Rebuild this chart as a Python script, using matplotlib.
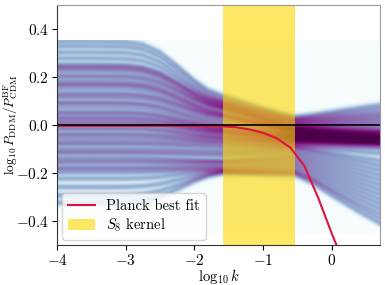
import numpy as np
import matplotlib
matplotlib.use("Agg")
import matplotlib.pyplot as plt
from matplotlib.colors import PowerNorm

plt.rcParams["font.family"] = "serif"
plt.rcParams["font.serif"] = ["cmr10"]
plt.rcParams["mathtext.fontset"] = "cm"
plt.rcParams["axes.formatter.use_mathtext"] = True
plt.rcParams["font.size"] = 11

# sample curves: level at low k, at -1.6, at -0.53 and at the right edge
low_level = [0.345, 0.325, 0.30, 0.275, 0.25,
             0.24, 0.234, 0.222, 0.205, 0.196, 0.18, 0.168, 0.163, 0.148, 0.13,
             0.122, 0.11, 0.092, 0.086, 0.07, 0.052, 0.046, 0.03, 0.024, 0.01,
             0.004, -0.012, -0.02, -0.038, -0.046, -0.06, -0.075, -0.082, -0.1, -0.112,
             -0.12, -0.138, -0.15, -0.16, -0.178, -0.186, -0.2,
             -0.225, -0.26, -0.295, -0.325]
mid_level = [0.12, 0.11, 0.10, 0.095, 0.09, 0.085, 0.08, 0.075, 0.07, 0.068,
             0.06, 0.05, 0.045, 0.04, 0.035, 0.03, 0.02, 0.01, 0.0, -0.01,
             -0.015, -0.02, -0.025, -0.03, -0.035, -0.04, -0.05, -0.055, -0.06, -0.07,
             -0.075, -0.085, -0.095, -0.11, -0.12, -0.13, -0.15, -0.155, -0.16, -0.17,
             -0.18, -0.185, -0.19, -0.195, -0.2, -0.2]
band_level = [0.03, 0.025, 0.02, 0.015, 0.01, 0.005, 0.0, -0.005, -0.01, -0.012,
              -0.015, -0.02, -0.022, -0.025, -0.028, -0.03, -0.035, -0.04, -0.04, -0.045,
              -0.05, -0.05, -0.055, -0.06, -0.06, -0.065, -0.07, -0.07, -0.075, -0.08,
              -0.085, -0.09, -0.095, -0.10, -0.11, -0.12, -0.13, -0.14, -0.15, -0.16,
              -0.17, -0.18, -0.19, -0.2, -0.2, -0.21]
high_level = [0.08, 0.065, 0.05, 0.04, 0.03, 0.02, 0.01, 0.0, -0.01, -0.02,
              -0.025, -0.03, -0.035, -0.038, -0.04, -0.045, -0.05, -0.05, -0.055, -0.06,
              -0.06, -0.065, -0.065, -0.07, -0.07, -0.075, -0.08, -0.08, -0.085, -0.09,
              -0.1, -0.12, -0.15, -0.17, -0.19, -0.21, -0.23, -0.25, -0.27, -0.29,
              -0.31, -0.33, -0.35, -0.37, -0.39, -0.41]

# shape of the transitions
node_logk = [-4, -3.5, -3, -2.75, -2.5, -2.25, -2.0, -1.8, -1.6, -1.3, -1.0, -0.75, -0.53, -0.3, 0.0, 0.35, 0.7]
step_low = [0, 0, 0.01, 0.06, 0.2, 0.45, 0.72, 0.9, 1, 1, 1, 1, 1, 1, 1, 1, 1]
step_mid = [0, 0, 0, 0, 0, 0, 0, 0, 0, 0.3, 0.6, 0.83, 1, 1, 1, 1, 1]
step_high = [0, 0, 0, 0, 0, 0, 0, 0, 0, 0, 0, 0, 0, 0.15, 0.42, 0.72, 1]

# Planck best fit
planck_logk = [-4, -2, -1.6, -1.4, -1.2, -1.0, -0.8, -0.6, -0.4, -0.2, 0.0, 0.1, 0.2]
planck_val = [-0.004, -0.004, -0.006, -0.01, -0.019, -0.033, -0.056, -0.095, -0.17, -0.30, -0.45, -0.52, -0.6]

s8_lo, s8_hi = -1.585, -0.53

xg = np.linspace(-4, 0.7, 470)
yg = np.linspace(-0.45, 0.35, 320)
f1 = np.interp(xg, node_logk, step_low)
f2 = np.interp(xg, node_logk, step_mid)
f3 = np.interp(xg, node_logk, step_high)

dens = np.zeros((len(yg), len(xg)))
for a, b, c, h in zip(low_level, mid_level, band_level, high_level):
    yc = a + (b - a) * f1 + (c - b) * f2 + (h - c) * f3
    dens += np.exp(-(yg[:, None] - yc[None, :]) ** 2 / (2 * 0.0075 ** 2))

fig = plt.figure(figsize=(3.85, 2.85), dpi=100)
ax = fig.add_axes([0.149, 0.14, 0.837, 0.844])

ax.imshow(dens, origin="lower", extent=[-4, 0.7, -0.45, 0.35], aspect="auto",
          cmap="BuPu", norm=PowerNorm(0.5, vmin=0, vmax=0.85 * dens.max(), clip=True),
          interpolation="bilinear", zorder=0)
ax.axvspan(s8_lo, s8_hi, color="gold", alpha=0.6, lw=0, zorder=1, label=r"$S_8$ kernel")
ax.plot(planck_logk, planck_val, color="crimson", lw=1.5, zorder=2, label="Planck best fit")
ax.axhline(0, color="k", lw=1.2, zorder=3)

ax.set_xlim(-4, 0.7)
ax.set_ylim(-0.5, 0.5)
ax.set_xticks([-4, -3, -2, -1, 0])
ax.set_yticks([-0.4, -0.2, 0.0, 0.2, 0.4])
ax.set_yticklabels([r"$-0.4$", r"$-0.2$", r"$0.0$", r"$0.2$", r"$0.4$"])
ax.set_xlabel(r"$\log_{10} k$", fontsize=10.5, labelpad=-1)
ax.set_ylabel(r"$\log_{10} P_{\rm DDM}/P^{\rm BF}_{\rm CDM}$", fontsize=9.5, labelpad=-3)

for side in ["top", "right"]:
    ax.spines[side].set_color("0.6")
for side in ["left", "bottom"]:
    ax.spines[side].set_color("0.2")
ax.tick_params(direction="out", length=3.5, width=0.8, pad=2.5)

h, l = ax.get_legend_handles_labels()
ax.legend(h[::-1], l[::-1], loc="lower left", fontsize=10.5, framealpha=0.8,
          edgecolor="0.8", handlelength=1.8, labelspacing=0.25, borderaxespad=0.35)

fig.savefig("out.png", dpi=100)
